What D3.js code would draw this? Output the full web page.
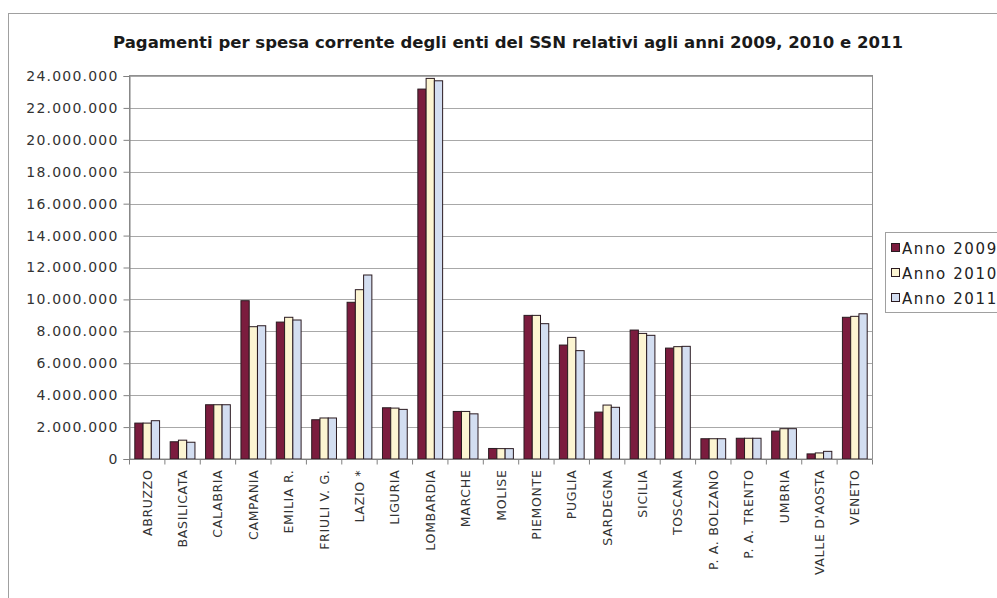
<!DOCTYPE html>
<html>
<head>
<meta charset="utf-8">
<script src="https://cdn.jsdelivr.net/npm/d3@7"></script>
<style>
  body { margin: 0; background: #fff; }
  svg { display: block; }
  text { font-family: "DejaVu Sans", Verdana, sans-serif; }
</style>
</head>
<body>
<svg id="chart" width="997" height="598"></svg>
<script>
const categories = ["ABRUZZO","BASILICATA","CALABRIA","CAMPANIA","EMILIA R.","FRIULI V. G.","LAZIO *","LIGURIA","LOMBARDIA","MARCHE","MOLISE","PIEMONTE","PUGLIA","SARDEGNA","SICILIA","TOSCANA","P. A. BOLZANO","P. A. TRENTO","UMBRIA","VALLE D'AOSTA","VENETO"];
const anno2009 = [2250000,1080000,3400000,9920000,8580000,2460000,9820000,3210000,23180000,2980000,660000,9000000,7140000,2940000,8080000,6950000,1270000,1300000,1750000,320000,8880000];
const anno2010 = [2250000,1180000,3400000,8290000,8880000,2570000,10610000,3190000,23850000,2980000,650000,9000000,7620000,3380000,7870000,7040000,1270000,1300000,1900000,380000,8940000];
const anno2011 = [2400000,1050000,3400000,8350000,8710000,2570000,11530000,3110000,23700000,2830000,650000,8480000,6790000,3240000,7750000,7060000,1270000,1300000,1900000,480000,9100000];
const seriesNames = ["Anno 2009","Anno 2010","Anno 2011"];
const seriesValues = [anno2009, anno2010, anno2011];
const yTicks = [0,2000000,4000000,6000000,8000000,10000000,12000000,14000000,16000000,18000000,20000000,22000000,24000000];
const title = "Pagamenti per spesa corrente degli enti del SSN relativi agli anni 2009, 2010 e 2011";

const colors = ["#7b1c3e", "#fcf5d2", "#d3def1"];
const svg = d3.select("#chart");

// outer frame
svg.append("rect").attr("x", 8.5).attr("y", 13.5).attr("width", 1000).attr("height", 600)
  .attr("fill", "none").attr("stroke", "#a0a0a0").attr("stroke-width", 1);

const L = 129, R = 872, T = 76, B = 459;
const x0 = d3.scaleBand().domain(categories).range([L, R]).paddingInner(0.3).paddingOuter(0.15);
const x1 = d3.scaleBand().domain(seriesNames).range([0, x0.bandwidth()]);
const y = d3.scaleLinear().domain([0, 24000000]).range([B, T]);

// plot border
svg.append("rect").attr("x", L + 0.5).attr("y", T - 0.5).attr("width", R - L).attr("height", B - T + 0.5)
  .attr("fill", "none").attr("stroke", "#909090");

// gridlines
svg.append("g").selectAll("line").data(yTicks.filter(d => d > 0)).join("line")
  .attr("x1", L).attr("x2", R).attr("y1", d => Math.round(y(d)) + 0.5).attr("y2", d => Math.round(y(d)) + 0.5)
  .attr("stroke", "#a8a8a8").attr("stroke-width", 1);

// y axis
const fmt = d => d3.format(",")(d).replace(/,/g, ".");
const yAxis = svg.append("g").attr("transform", `translate(${L + 0.5},0)`)
  .call(d3.axisLeft(y).tickValues(yTicks).tickFormat(fmt).tickSize(6).tickPadding(5));
yAxis.select(".domain").attr("stroke", "#808080");
yAxis.selectAll(".tick line").attr("stroke", "#808080");
yAxis.selectAll("text").attr("font-size", 14).attr("letter-spacing", 1.2).attr("fill", "#333");

// bars
const groups = svg.append("g").selectAll("g").data(categories).join("g")
  .attr("transform", d => `translate(${x0(d)},0)`);
groups.selectAll("rect").data((d, i) => seriesNames.map((s, j) => ({ s, j, v: seriesValues[j][i] }))).join("rect")
  .attr("x", d => x1(d.s) + 0.5)
  .attr("y", d => y(d.v))
  .attr("width", x1.bandwidth())
  .attr("height", d => B - y(d.v))
  .attr("fill", d => colors[d.j])
  .attr("stroke", "#2a1a20").attr("stroke-width", 1);

// x axis
const xAxisG = svg.append("g").attr("transform", `translate(0,${B + 0.5})`);
xAxisG.append("line").attr("x1", L).attr("x2", R).attr("stroke", "#808080");
const step = (R - L) / categories.length;
xAxisG.selectAll("line.tk").data(d3.range(categories.length + 1)).join("line").attr("class", "tk")
  .attr("x1", i => L + i * step + 0.5).attr("x2", i => L + i * step + 0.5).attr("y1", 0).attr("y2", 5)
  .attr("stroke", "#808080");
xAxisG.selectAll("text").data(categories).join("text")
  .attr("transform", d => `translate(${x0(d) + x0.bandwidth() / 2 + 5},10) rotate(-90)`)
  .attr("text-anchor", "end").attr("font-size", 12.5).attr("letter-spacing", 0.7).attr("fill", "#333").text(d => d);

// title
svg.append("text").attr("x", 508).attr("y", 48).attr("text-anchor", "middle")
  .attr("font-family", "'DejaVu Sans Condensed', 'DejaVu Sans', sans-serif")
  .attr("font-size", 16.5).attr("font-weight", "bold").attr("fill", "#1a1a1a")
  .attr("textLength", 790).attr("lengthAdjust", "spacingAndGlyphs").text(title);

// legend
const lg = svg.append("g");
lg.append("rect").attr("x", 885.5).attr("y", 232.5).attr("width", 130).attr("height", 80)
  .attr("fill", "none").attr("stroke", "#a0a0a0");
seriesNames.forEach((s, j) => {
  const yy = 248 + j * 25;
  lg.append("rect").attr("x", 891.5).attr("y", yy - 4.5).attr("width", 8).attr("height", 8)
    .attr("fill", colors[j]).attr("stroke", "#2a1a20");
  lg.append("text").attr("x", 902).attr("y", yy + 5.5).attr("font-size", 15).attr("letter-spacing", 1.6).attr("fill", "#222").text(s);
});
</script>
</body>
</html>
